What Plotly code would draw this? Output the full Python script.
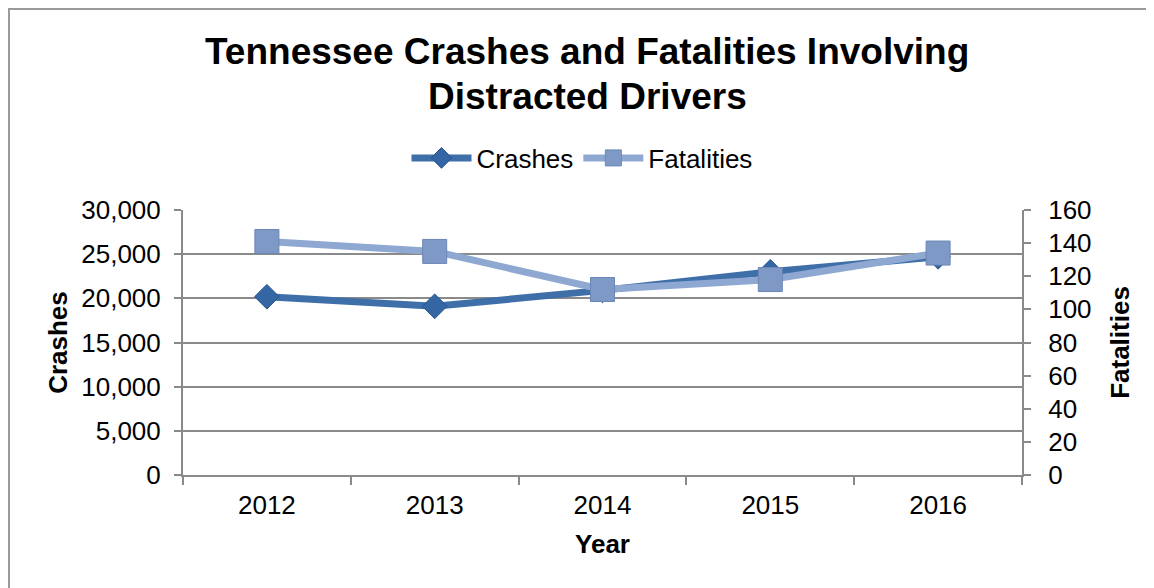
import plotly.graph_objects as go

years = ["2012", "2013", "2014", "2015", "2016"]
crashes = [20180, 19100, 20900, 23000, 24700]
fatalities = [141, 135, 112, 118, 134]
left_ticks = [0, 5000, 10000, 15000, 20000, 25000, 30000]
right_ticks = [0, 20, 40, 60, 80, 100, 120, 140, 160]

FONT = "Liberation Sans, Arial, sans-serif"
GRID = "#8a8a8a"
C_CRASH = "#3f6fa9"
C_FAT = "#8ea8d2"

# page offset from body margin
OFF = 8
W, H = 1146, 580
# plot area in page pixels
L, R, T, B = 183, 1022, 210, 475
ml, mt = L - OFF, T - OFF
pw, ph = R - L, B - T
mr = W - ml - pw
mb = H - mt - ph


def fx(page_x):
    return (page_x - L) / pw


def fy(page_y):
    return (B - page_y) / ph


fig = go.Figure()
fig.add_trace(go.Scatter(
    x=years, y=crashes, name="Crashes", mode="lines+markers",
    line=dict(color=C_CRASH, width=7),
    marker=dict(symbol="diamond", size=19, color="#3466a4",
                line=dict(color="#2a5690", width=1)),
    yaxis="y"))
fig.add_trace(go.Scatter(
    x=years, y=fatalities, name="Fatalities", mode="lines+markers",
    line=dict(color=C_FAT, width=7),
    marker=dict(symbol="square", size=24, color="#7f99c6",
                line=dict(color="#6b86b6", width=1)),
    yaxis="y2"))

fig.update_layout(
    width=W, height=H,
    margin=dict(l=ml, r=mr, t=mt, b=mb, pad=0),
    paper_bgcolor="white", plot_bgcolor="white",
    font=dict(family=FONT, size=26, color="black"),
    legend=dict(orientation="h", x=fx(582), xanchor="center", xref="paper",
                y=fy(158), yanchor="middle", yref="paper",
                font=dict(size=26, family=FONT), itemwidth=60,
                bgcolor="rgba(0,0,0,0)"),
    showlegend=True,
    xaxis=dict(type="category", categoryorder="array", categoryarray=years,
               range=[-0.5, 4.5], autorange=False,
               showline=True, linecolor=GRID, linewidth=2,
               ticks="outside", tickson="boundaries", ticklen=8, tickcolor=GRID,
               tickwidth=2, showgrid=False, ticklabelstandoff=6,
               tickfont=dict(size=26, family=FONT),
               title=dict(text="<b>Year</b>", font=dict(size=26, family=FONT), standoff=16)),
    yaxis=dict(range=[0, 30000], tickvals=left_ticks, tickformat=",d",
               showline=True, linecolor=GRID, linewidth=2,
               showgrid=True, gridcolor=GRID, gridwidth=2,
               ticks="outside", ticklen=7, tickcolor=GRID, tickwidth=2,
               ticklabelstandoff=8,
               tickfont=dict(size=26, family=FONT), zeroline=False,
               title=dict(text="<b>Crashes</b>", font=dict(size=26, family=FONT), standoff=6)),
    yaxis2=dict(range=[0, 160], tickvals=right_ticks, overlaying="y", side="right",
                showline=True, linecolor=GRID, linewidth=2, showgrid=False,
                ticks="outside", ticklen=7, tickcolor=GRID, tickwidth=2,
                ticklabelstandoff=12,
                tickfont=dict(size=26, family=FONT), zeroline=False,
                title=dict(text="<b>Fatalities</b>", font=dict(size=26, family=FONT), standoff=20)),
)

title_lines = ["Tennessee Crashes and Fatalities Involving", "Distracted Drivers"]
for txt, py in zip(title_lines, [52, 96]):
    fig.add_annotation(text=f"<b>{txt}</b>", xref="paper", yref="paper",
                       x=fx(587), y=fy(py), xanchor="center", yanchor="middle",
                       showarrow=False, font=dict(size=37, family=FONT, color="black"))

# outer chart border
fig.add_shape(type="rect", xref="paper", yref="paper",
              x0=fx(OFF + 1), x1=fx(1170), y0=fy(9), y1=fy(620),
              line=dict(color="#9a9a9a", width=2), fillcolor="rgba(0,0,0,0)", layer="below")

fig.write_html("out.html")
